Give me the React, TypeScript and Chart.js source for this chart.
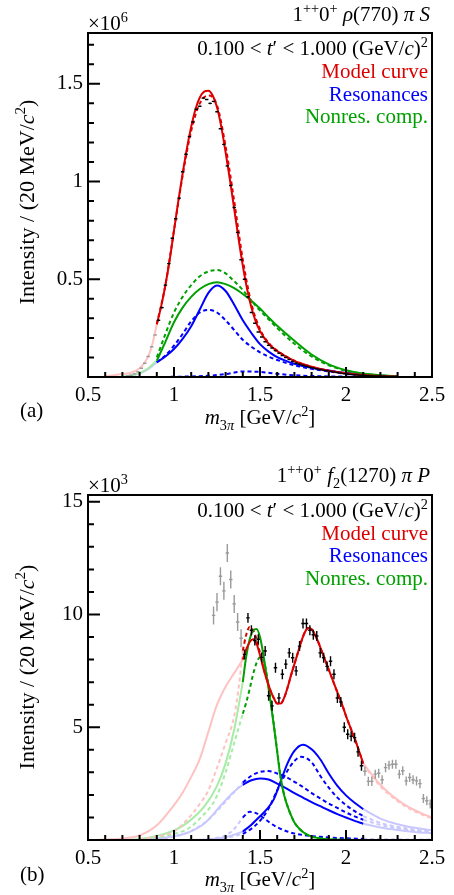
import React, { useEffect, useRef } from 'react';
import { Chart, registerables } from 'chart.js';

Chart.register(...registerables);

type Pt = [number, number];

const SERIF = "'Liberation Serif', 'DejaVu Serif', serif";
Chart.defaults.font.family = SERIF;
Chart.defaults.color = '#000';

const RED = '#dd0000';
const BLUE = '#0000ff';
const GREEN = '#00a000';
const PINK = '#ffc2c2';
const LGREEN = '#a6eca6';
const LBLUE = '#c8c8ff';
const BLACK = '#000000';
const GRAY = '#9a9a9a';

const X_MIN = 0.5;
const X_MAX = 2.5;
const X_TICKS = [0.5, 1, 1.5, 2, 2.5];

// ---------------- Panel (a): 1++0+ rho(770) pi S  (units of 10^6) ----------------
const A_Y_MAX = 1.76;
const A_Y_TICKS = [0.5, 1, 1.5];
const A_ERR = 0.004;

const A_DATA: Pt[] = [
  [0.91, 0.29], [0.93, 0.355], [0.95, 0.47], [0.97, 0.58], [0.99, 0.71], [1.01, 0.81],
  [1.03, 0.915], [1.05, 1.05], [1.07, 1.14], [1.09, 1.23], [1.11, 1.305], [1.13, 1.37],
  [1.15, 1.385], [1.17, 1.427], [1.19, 1.42], [1.21, 1.40], [1.23, 1.41], [1.25, 1.357],
  [1.27, 1.27], [1.29, 1.19], [1.31, 1.08], [1.33, 0.98], [1.35, 0.867], [1.37, 0.74],
  [1.39, 0.60], [1.41, 0.50], [1.43, 0.41], [1.45, 0.33], [1.47, 0.275], [1.49, 0.23],
  [1.51, 0.205], [1.53, 0.18], [1.55, 0.162], [1.57, 0.148], [1.59, 0.135], [1.61, 0.122],
  [1.63, 0.11], [1.65, 0.10], [1.67, 0.09], [1.69, 0.08], [1.71, 0.071], [1.73, 0.066],
  [1.75, 0.06], [1.77, 0.055], [1.79, 0.05], [1.81, 0.046], [1.83, 0.042], [1.85, 0.038],
  [1.87, 0.035], [1.89, 0.032], [1.91, 0.029], [1.93, 0.026], [1.95, 0.023], [1.97, 0.02],
  [1.99, 0.017], [2.01, 0.015], [2.03, 0.013], [2.05, 0.011], [2.07, 0.01], [2.09, 0.009],
  [2.11, 0.008], [2.13, 0.007], [2.15, 0.006], [2.17, 0.005], [2.19, 0.005], [2.21, 0.004],
  [2.23, 0.004], [2.25, 0.003], [2.27, 0.003], [2.29, 0.002],
];
const A_DATA_OUT: Pt[] = [
  [0.73, 0.005], [0.75, 0.009], [0.77, 0.016], [0.79, 0.027], [0.81, 0.045],
  [0.83, 0.07], [0.85, 0.105], [0.87, 0.155], [0.89, 0.215],
];
const A_MODEL: Pt[] = [
  [0.9, 0.27], [0.925, 0.36], [0.95, 0.47], [0.975, 0.6], [1.0, 0.75], [1.025, 0.9],
  [1.05, 1.04], [1.075, 1.17], [1.1, 1.28], [1.125, 1.37], [1.15, 1.43], [1.175, 1.46],
  [1.2, 1.465], [1.225, 1.44], [1.25, 1.38], [1.275, 1.28], [1.3, 1.15], [1.325, 1.01],
  [1.35, 0.86], [1.375, 0.71], [1.4, 0.57], [1.425, 0.45], [1.45, 0.355], [1.475, 0.285],
  [1.5, 0.235], [1.55, 0.17], [1.6, 0.133], [1.65, 0.105], [1.7, 0.082], [1.8, 0.052],
  [1.9, 0.032], [2.0, 0.019], [2.1, 0.01], [2.2, 0.005], [2.3, 0.002],
];
const A_MODEL_DASH: Pt[] = [
  [0.9, 0.27], [0.95, 0.47], [1.0, 0.75], [1.05, 1.03], [1.1, 1.26], [1.15, 1.4],
  [1.2, 1.44], [1.25, 1.39], [1.3, 1.18], [1.35, 0.9], [1.4, 0.6], [1.45, 0.375],
  [1.5, 0.245], [1.55, 0.175], [1.6, 0.135], [1.7, 0.083], [1.8, 0.052], [1.9, 0.032],
  [2.0, 0.019], [2.1, 0.01], [2.2, 0.005], [2.3, 0.002],
];
const A_MODEL_OUT: Pt[] = [
  [0.6, 0.004], [0.65, 0.009], [0.7, 0.015], [0.75, 0.022], [0.8, 0.045],
  [0.825, 0.068], [0.85, 0.105], [0.875, 0.17], [0.9, 0.27],
];
const A_NONRES: Pt[] = [
  [0.9, 0.083], [0.95, 0.18], [1.0, 0.28], [1.05, 0.355], [1.1, 0.41], [1.15, 0.45],
  [1.2, 0.475], [1.25, 0.485], [1.3, 0.475], [1.35, 0.455], [1.4, 0.425], [1.45, 0.39],
  [1.5, 0.35], [1.55, 0.305], [1.6, 0.262], [1.7, 0.185], [1.8, 0.115], [1.9, 0.065],
  [2.0, 0.035], [2.1, 0.018], [2.2, 0.009], [2.3, 0.004],
];
const A_NONRES_DASH: Pt[] = [
  [0.9, 0.1], [0.95, 0.22], [1.0, 0.33], [1.05, 0.41], [1.1, 0.47], [1.15, 0.515],
  [1.2, 0.54], [1.25, 0.547], [1.3, 0.53], [1.35, 0.49], [1.4, 0.445], [1.45, 0.39],
  [1.5, 0.34], [1.55, 0.295], [1.6, 0.25], [1.7, 0.17], [1.8, 0.105], [1.9, 0.06],
  [2.0, 0.032], [2.1, 0.016], [2.2, 0.008], [2.3, 0.003],
];
const A_NONRES_OUT: Pt[] = [
  [0.7, 0.003], [0.75, 0.008], [0.8, 0.02], [0.85, 0.045], [0.9, 0.083],
];
const A_RES: Pt[] = [
  [0.9, 0.075], [0.95, 0.105], [1.0, 0.143], [1.05, 0.195], [1.1, 0.26], [1.15, 0.345],
  [1.2, 0.43], [1.25, 0.468], [1.3, 0.44], [1.35, 0.37], [1.4, 0.29], [1.45, 0.225],
  [1.5, 0.168], [1.55, 0.13], [1.6, 0.102], [1.7, 0.068], [1.8, 0.047], [1.9, 0.033],
  [2.0, 0.02], [2.1, 0.012], [2.2, 0.007], [2.3, 0.003],
];
const A_RES_DASH: Pt[] = [
  [0.9, 0.075], [0.95, 0.11], [1.0, 0.16], [1.05, 0.22], [1.1, 0.285], [1.15, 0.33],
  [1.2, 0.343], [1.25, 0.33], [1.3, 0.29], [1.35, 0.24], [1.4, 0.19], [1.45, 0.155],
  [1.5, 0.126], [1.55, 0.104], [1.6, 0.087], [1.7, 0.06], [1.8, 0.042], [1.9, 0.028],
  [2.0, 0.017], [2.1, 0.01], [2.2, 0.005], [2.3, 0.002],
];
const A_RES_DASH2: Pt[] = [
  [0.9, 0.0], [1.0, 0.001], [1.1, 0.003], [1.2, 0.006], [1.3, 0.015], [1.4, 0.028],
  [1.5, 0.026], [1.6, 0.016], [1.7, 0.009], [1.8, 0.005], [2.0, 0.002], [2.3, 0.001],
];
const A_RES_OUT: Pt[] = [
  [0.75, 0.006], [0.8, 0.018], [0.85, 0.04], [0.9, 0.075],
];

// ---------------- Panel (b): 1++0+ f2(1270) pi P  (units of 10^3) ----------------
const B_Y_MAX = 15.3;
const B_Y_TICKS = [5, 10, 15];
const B_ERR = 0.22;
const B_ERR_OUT_LOW = 0.4;
const B_ERR_OUT_HIGH = 0.2;

const B_DATA: Pt[] = [
  [1.41, 8.23], [1.43, 9.85], [1.45, 9.3], [1.47, 8.85], [1.49, 8.9], [1.51, 8.1],
  [1.53, 8.38], [1.55, 6.4], [1.57, 5.95], [1.59, 7.64], [1.61, 6.3], [1.63, 7.35],
  [1.65, 7.8], [1.67, 8.3], [1.69, 8.08], [1.71, 7.5], [1.73, 8.6], [1.75, 9.6],
  [1.77, 9.6], [1.79, 9.3], [1.81, 9.1], [1.83, 9.05], [1.85, 8.3], [1.87, 8.08],
  [1.89, 7.7], [1.91, 7.93], [1.93, 7.35], [1.95, 6.3], [1.97, 6.12], [1.99, 5.0],
  [2.01, 4.69], [2.03, 4.6], [2.05, 4.54], [2.07, 3.91], [2.09, 3.29],
];
const B_DATA_OUT_LOW: Pt[] = [
  [1.23, 9.96], [1.25, 10.55], [1.27, 11.7], [1.29, 11.05], [1.31, 12.73],
  [1.33, 11.55], [1.35, 10.47], [1.37, 9.67], [1.39, 8.95],
];
const B_DATA_OUT_HIGH: Pt[] = [
  [2.11, 3.05], [2.13, 2.6], [2.15, 2.6], [2.17, 2.92], [2.19, 2.96], [2.21, 2.67],
  [2.23, 3.21], [2.25, 3.32], [2.27, 3.36], [2.29, 3.36], [2.31, 2.92], [2.33, 3.07],
  [2.35, 2.62], [2.37, 2.77], [2.39, 2.67], [2.41, 2.62], [2.43, 2.5], [2.45, 1.84],
  [2.47, 1.74], [2.49, 1.6],
];
const B_MODEL: Pt[] = [
  [1.4, 8.0], [1.42, 8.45], [1.44, 8.78], [1.46, 8.9], [1.48, 8.7], [1.5, 8.2],
  [1.52, 7.6], [1.54, 7.1], [1.56, 6.65], [1.58, 6.3], [1.6, 6.05], [1.62, 6.05],
  [1.64, 6.3], [1.66, 6.75], [1.68, 7.3], [1.7, 7.8], [1.72, 8.3], [1.74, 8.8],
  [1.76, 9.2], [1.78, 9.4], [1.8, 9.35], [1.82, 9.1], [1.84, 8.75], [1.86, 8.35],
  [1.88, 7.95], [1.9, 7.55], [1.92, 7.15], [1.94, 6.75], [1.96, 6.35], [1.98, 5.95],
  [2.0, 5.5], [2.02, 5.1], [2.04, 4.7], [2.06, 4.3], [2.08, 3.85], [2.1, 3.4],
];
const B_MODEL_DASH: Pt[] = [
  [1.4, 8.4], [1.42, 9.1], [1.44, 9.45], [1.46, 9.3], [1.48, 8.9], [1.5, 8.3],
  [1.52, 7.65], [1.54, 7.1], [1.56, 6.65], [1.58, 6.3], [1.6, 6.05], [1.62, 6.05],
  [1.64, 6.3], [1.66, 6.75], [1.68, 7.3], [1.7, 7.8], [1.72, 8.3], [1.74, 8.8],
  [1.76, 9.2], [1.78, 9.4], [1.8, 9.35], [1.82, 9.1], [1.84, 8.75], [1.86, 8.35],
  [1.88, 7.95], [1.9, 7.55], [1.92, 7.15], [1.94, 6.75], [1.96, 6.35], [1.98, 5.95],
  [2.0, 5.5], [2.02, 5.1], [2.04, 4.7], [2.06, 4.3], [2.08, 3.85], [2.1, 3.35],
];
const B_MODEL_OUT_LOW: Pt[] = [
  [0.55, 0.0], [0.6, 0.02], [0.7, 0.07], [0.8, 0.2], [0.9, 0.65], [1.0, 1.55],
  [1.05, 2.1], [1.1, 2.8], [1.15, 3.6], [1.2, 4.8], [1.25, 6.0], [1.3, 6.8],
  [1.35, 7.4], [1.4, 8.0],
];
const B_MODEL_OUT_HIGH: Pt[] = [
  [2.1, 3.4], [2.15, 2.9], [2.2, 2.45], [2.25, 2.08], [2.3, 1.78], [2.35, 1.52],
  [2.4, 1.32], [2.45, 1.15], [2.5, 1.0],
];
const B_MODEL_DASH_OUT_LOW: Pt[] = [
  [0.8, 0.05], [0.9, 0.15], [1.0, 0.38], [1.08, 0.93], [1.15, 1.6], [1.2, 2.2],
  [1.25, 3.2], [1.3, 4.3], [1.35, 5.5], [1.38, 7.0], [1.4, 8.4],
];
const B_MODEL_DASH_OUT_HIGH: Pt[] = [
  [2.1, 3.35], [2.2, 2.38], [2.3, 1.72], [2.4, 1.27], [2.5, 0.95],
];
const B_NONRES: Pt[] = [
  [1.4, 7.0], [1.42, 8.15], [1.44, 8.9], [1.46, 9.3], [1.48, 9.36], [1.5, 9.0],
  [1.52, 8.2], [1.54, 7.2], [1.56, 6.2], [1.58, 5.1], [1.6, 3.9], [1.62, 2.75],
  [1.64, 2.0], [1.66, 1.5], [1.68, 1.1], [1.7, 0.78], [1.73, 0.49], [1.76, 0.3],
  [1.8, 0.15], [1.85, 0.07], [1.9, 0.03], [2.0, 0.01], [2.1, 0.0],
];
const B_NONRES_DASH: Pt[] = [
  [1.4, 5.6], [1.42, 6.1], [1.44, 6.7], [1.46, 7.35], [1.48, 7.85], [1.5, 8.1],
  [1.52, 8.0], [1.54, 7.3], [1.56, 6.3], [1.58, 5.15], [1.6, 3.95], [1.62, 2.8],
  [1.64, 2.02], [1.66, 1.5], [1.68, 1.1], [1.7, 0.78], [1.73, 0.49], [1.76, 0.3],
  [1.8, 0.15], [1.85, 0.07], [1.9, 0.03], [2.0, 0.01], [2.1, 0.0],
];
const B_NONRES_OUT: Pt[] = [
  [0.7, 0.01], [0.8, 0.05], [0.9, 0.18], [1.0, 0.42], [1.08, 0.78], [1.18, 1.52],
  [1.25, 2.4], [1.3, 3.4], [1.35, 4.9], [1.4, 7.0],
];
const B_NONRES_DASH_OUT: Pt[] = [
  [0.8, 0.03], [0.9, 0.11], [1.0, 0.28], [1.08, 0.49], [1.15, 0.95], [1.24, 1.81],
  [1.3, 3.0], [1.35, 4.3], [1.4, 5.6],
];
const B_RES1: Pt[] = [
  [1.4, 2.45], [1.45, 2.65], [1.5, 2.73], [1.55, 2.68], [1.6, 2.5], [1.65, 2.3],
  [1.7, 2.08], [1.75, 1.88], [1.8, 1.68], [1.85, 1.5], [1.9, 1.32], [1.95, 1.15],
  [2.0, 1.0], [2.05, 0.85], [2.1, 0.72],
];
const B_RES1_OUT_LOW: Pt[] = [
  [0.8, 0.02], [0.9, 0.07], [1.0, 0.17], [1.08, 0.32], [1.18, 0.75], [1.28, 1.6],
  [1.35, 2.15], [1.4, 2.45],
];
const B_RES1_OUT_HIGH: Pt[] = [
  [2.1, 0.72], [2.2, 0.55], [2.3, 0.44], [2.4, 0.36], [2.5, 0.3],
];
const B_RES2: Pt[] = [
  [1.4, 0.37], [1.45, 0.68], [1.5, 1.05], [1.54, 1.37], [1.58, 1.8], [1.62, 2.6],
  [1.66, 3.4], [1.7, 3.95], [1.75, 4.22], [1.8, 4.02], [1.85, 3.58], [1.9, 2.95],
  [1.95, 2.4], [2.0, 1.98], [2.05, 1.65], [2.1, 1.37],
];
const B_RES2_OUT_LOW: Pt[] = [
  [1.1, 0.0], [1.2, 0.03], [1.3, 0.12], [1.4, 0.37],
];
const B_RES2_OUT_HIGH: Pt[] = [
  [2.1, 1.37], [2.2, 0.95], [2.3, 0.7], [2.4, 0.54], [2.5, 0.43],
];
const B_RES1_DASH: Pt[] = [
  [1.4, 2.55], [1.45, 2.85], [1.5, 3.02], [1.55, 3.06], [1.6, 2.95], [1.65, 2.8],
  [1.7, 2.58], [1.75, 2.35], [1.8, 2.08], [1.85, 1.85], [1.9, 1.62], [1.95, 1.42],
  [2.0, 1.22], [2.05, 1.05], [2.1, 0.9],
];
const B_RES1_DASH_OUT_LOW: Pt[] = [
  [0.9, 0.05], [1.0, 0.15], [1.1, 0.4], [1.2, 0.9], [1.3, 1.7], [1.4, 2.55],
];
const B_RES1_DASH_OUT_HIGH: Pt[] = [
  [2.1, 0.9], [2.2, 0.67], [2.3, 0.52], [2.4, 0.41], [2.5, 0.33],
];
const B_RES2_DASH: Pt[] = [
  [1.4, 0.27], [1.45, 0.5], [1.5, 0.85], [1.55, 1.4], [1.6, 2.2], [1.65, 2.95],
  [1.7, 3.5], [1.74, 3.69], [1.8, 3.45], [1.85, 2.85], [1.9, 2.32], [1.95, 1.88],
  [2.0, 1.55], [2.05, 1.28], [2.1, 1.06],
];
const B_RES2_DASH_OUT_LOW: Pt[] = [
  [1.2, 0.02], [1.3, 0.1], [1.4, 0.27],
];
const B_RES2_DASH_OUT_HIGH: Pt[] = [
  [2.1, 1.06], [2.2, 0.76], [2.3, 0.58], [2.4, 0.46], [2.5, 0.37],
];
const B_RES3_DASH: Pt[] = [
  [1.4, 1.0], [1.44, 1.25], [1.48, 1.18], [1.52, 0.98], [1.56, 0.75], [1.6, 0.57],
  [1.67, 0.35], [1.75, 0.22], [1.85, 0.14], [1.95, 0.09], [2.1, 0.05],
];
const B_RES3_DASH_OUT_LOW: Pt[] = [
  [1.2, 0.03], [1.3, 0.2], [1.35, 0.49], [1.4, 1.0],
];
const B_RES3_DASH_OUT_HIGH: Pt[] = [
  [2.1, 0.05], [2.3, 0.03], [2.5, 0.02],
];

// ---------------- helpers ----------------
const toXY = (pts: Pt[]) => pts.map(([x, y]) => ({ x, y }));

const curve = (pts: Pt[], color: string, dashed = false, width = 2) => ({
  type: 'line',
  data: toXY(pts),
  borderColor: color,
  backgroundColor: color,
  borderWidth: width,
  borderDash: dashed ? [4, 3] : [],
  pointRadius: 0,
  pointHoverRadius: 0,
  fill: false,
  cubicInterpolationMode: 'monotone',
});

const points = (pts: Pt[], color: string, err: number) => ({
  type: 'line',
  data: toXY(pts),
  showLine: false,
  pointRadius: 0,
  pointHoverRadius: 0,
  borderColor: color,
  backgroundColor: color,
  errBar: { err, half: 0.01, color },
});

const rootFramePlugin = {
  id: 'rootFrame',
  afterDatasetsDraw(chart: any, _args: any, opts: any) {
    const { ctx, chartArea: a, scales } = chart;
    const xs = scales.x;
    const ys = scales.y;
    ctx.save();
    // data points with error bars
    chart.data.datasets.forEach((ds: any) => {
      if (!ds.errBar) return;
      const { err, half, color } = ds.errBar;
      ctx.strokeStyle = color;
      ctx.lineWidth = 1.4;
      ctx.beginPath();
      ds.data.forEach((p: any) => {
        const x0 = xs.getPixelForValue(p.x - half);
        const x1 = xs.getPixelForValue(p.x + half);
        const xc = xs.getPixelForValue(p.x);
        const yc = ys.getPixelForValue(p.y);
        const yl = ys.getPixelForValue(p.y - err);
        const yh = ys.getPixelForValue(p.y + err);
        ctx.moveTo(x0, yc);
        ctx.lineTo(x1, yc);
        ctx.moveTo(xc, yl);
        ctx.lineTo(xc, yh);
      });
      ctx.stroke();
    });
    // frame
    ctx.strokeStyle = '#000';
    ctx.lineWidth = 2;
    ctx.strokeRect(a.left, a.top, a.right - a.left, a.bottom - a.top);
    // inward ticks on bottom and left axes
    ctx.beginPath();
    const nx = Math.round((xs.max - xs.min) / opts.xMinor);
    for (let k = 0; k <= nx; k++) {
      const v = xs.min + k * opts.xMinor;
      const r = v / opts.xMajor;
      const major = Math.abs(r - Math.round(r)) < 1e-6;
      const px = xs.getPixelForValue(v);
      ctx.moveTo(px, a.bottom);
      ctx.lineTo(px, a.bottom - (major ? 10 : 5));
    }
    const ny = Math.floor((ys.max - ys.min) / opts.yMinor + 1e-6);
    for (let k = 0; k <= ny; k++) {
      const v = ys.min + k * opts.yMinor;
      const r = v / opts.yMajor;
      const major = Math.abs(r - Math.round(r)) < 1e-6;
      const py = ys.getPixelForValue(v);
      ctx.moveTo(a.left, py);
      ctx.lineTo(a.left + (major ? 12 : 6), py);
    }
    ctx.stroke();
    ctx.restore();
  },
};

const fmt = (v: number) => String(Math.round(v * 100) / 100);

type PanelProps = {
  top: number;
  height: number;
  padTop: number;
  xAxisH: number;
  yMax: number;
  yTicks: number[];
  yMajor: number;
  yMinor: number;
  makeDatasets: () => any[];
};

function Panel({ top, height, padTop, xAxisH, yMax, yTicks, yMajor, yMinor, makeDatasets }: PanelProps) {
  const ref = useRef<HTMLCanvasElement>(null);
  useEffect(() => {
    const tickFont = { family: SERIF, size: 21 };
    const chart = new Chart(ref.current as HTMLCanvasElement, {
      type: 'line',
      data: { datasets: makeDatasets() as any },
      options: {
        animation: false,
        responsive: false,
        maintainAspectRatio: false,
        events: [],
        layout: { padding: { top: padTop, right: 22, left: 0, bottom: 0 } },
        plugins: {
          legend: { display: false },
          tooltip: { enabled: false },
          rootFrame: { xMajor: 0.5, xMinor: 0.1, yMajor, yMinor },
        } as any,
        scales: {
          x: {
            type: 'linear',
            min: X_MIN,
            max: X_MAX,
            grid: { display: false, drawTicks: false },
            border: { display: false },
            afterBuildTicks: (s: any) => {
              s.ticks = X_TICKS.map((v) => ({ value: v }));
            },
            ticks: {
              font: tickFont,
              color: '#000',
              padding: 6,
              maxRotation: 0,
              autoSkip: false,
              callback: (v: any) => fmt(Number(v)),
            },
            afterFit: (s: any) => {
              s.height = xAxisH;
            },
          },
          y: {
            type: 'linear',
            min: 0,
            max: yMax,
            grid: { display: false, drawTicks: false },
            border: { display: false },
            afterBuildTicks: (s: any) => {
              s.ticks = yTicks.map((v) => ({ value: v }));
            },
            ticks: {
              font: tickFont,
              color: '#000',
              padding: 5,
              autoSkip: false,
              callback: (v: any) => fmt(Number(v)),
            },
            afterFit: (s: any) => {
              s.width = 88;
            },
          },
        },
      } as any,
      plugins: [rootFramePlugin as any],
    });
    return () => chart.destroy();
  }, []);
  return (
    <canvas
      ref={ref}
      width={454}
      height={height}
      style={{ position: 'absolute', left: 0, top, width: 454, height, display: 'block' }}
    />
  );
}

const makeA = () => [
  curve(A_MODEL, RED),
  curve(A_NONRES, GREEN),
  curve(A_RES, BLUE),
  curve(A_MODEL_DASH, RED, true),
  curve(A_NONRES_DASH, GREEN, true),
  curve(A_RES_DASH, BLUE, true),
  curve(A_RES_DASH2, BLUE, true),
  curve(A_MODEL_OUT, PINK),
  curve(A_NONRES_OUT, LGREEN),
  curve(A_RES_OUT, LBLUE),
  points(A_DATA, BLACK, A_ERR),
  points(A_DATA_OUT, GRAY, A_ERR),
];

const makeB = () => [
  curve(B_MODEL, RED),
  curve(B_NONRES, GREEN),
  curve(B_RES2, BLUE),
  curve(B_RES1, BLUE),
  curve(B_MODEL_DASH, RED, true),
  curve(B_NONRES_DASH, GREEN, true),
  curve(B_RES1_DASH, BLUE, true),
  curve(B_RES2_DASH, BLUE, true),
  curve(B_RES3_DASH, BLUE, true),
  curve(B_MODEL_OUT_LOW, PINK),
  curve(B_MODEL_OUT_HIGH, PINK),
  curve(B_MODEL_DASH_OUT_LOW, PINK, true),
  curve(B_MODEL_DASH_OUT_HIGH, PINK, true),
  curve(B_NONRES_OUT, LGREEN),
  curve(B_NONRES_DASH_OUT, LGREEN, true),
  curve(B_RES1_OUT_LOW, LBLUE),
  curve(B_RES1_OUT_HIGH, LBLUE),
  curve(B_RES2_OUT_LOW, LBLUE),
  curve(B_RES2_OUT_HIGH, LBLUE),
  curve(B_RES1_DASH_OUT_LOW, LBLUE, true),
  curve(B_RES1_DASH_OUT_HIGH, LBLUE, true),
  curve(B_RES2_DASH_OUT_LOW, LBLUE, true),
  curve(B_RES2_DASH_OUT_HIGH, LBLUE, true),
  curve(B_RES3_DASH_OUT_LOW, LBLUE, true),
  curve(B_RES3_DASH_OUT_HIGH, LBLUE, true),
  points(B_DATA, BLACK, B_ERR),
  points(B_DATA_OUT_LOW, GRAY, B_ERR_OUT_LOW),
  points(B_DATA_OUT_HIGH, GRAY, B_ERR_OUT_HIGH),
];

// ---------------- text helpers ----------------
const Sup = ({ children }: { children: React.ReactNode }) => (
  <span style={{ fontSize: '0.68em', position: 'relative', top: '-0.62em' }}>{children}</span>
);
const Sub = ({ children }: { children: React.ReactNode }) => (
  <span style={{ fontSize: '0.68em', position: 'relative', top: '0.38em' }}>{children}</span>
);

const FS = 21;
const BASE = 17.6; // baseline offset from top for a 21px line box

const Txt = ({
  children,
  baseline,
  right,
  left,
  color = '#000',
  center,
}: {
  children: React.ReactNode;
  baseline: number;
  right?: number;
  left?: number;
  color?: string;
  center?: boolean;
}) => (
  <div
    style={{
      position: 'absolute',
      top: baseline - BASE,
      ...(right !== undefined ? { right } : {}),
      ...(left !== undefined ? { left } : {}),
      transform: center ? 'translateX(-50%)' : undefined,
      fontFamily: SERIF,
      fontSize: FS,
      lineHeight: `${FS}px`,
      whiteSpace: 'nowrap',
      color,
    }}
  >
    {children}
  </div>
);

const YTitle = ({ cy }: { cy: number }) => (
  <div
    style={{
      position: 'absolute',
      left: 28,
      top: cy,
      transform: 'translate(-50%, -50%) rotate(-90deg)',
      fontFamily: SERIF,
      fontSize: 22,
      lineHeight: '22px',
      whiteSpace: 'nowrap',
      color: '#000',
    }}
  >
    Intensity / (20 MeV/<i>c</i>
    <Sup>2</Sup>)
  </div>
);

const XTitle = ({ baseline }: { baseline: number }) => (
  <Txt baseline={baseline} left={260} center>
    <i>m</i>
    <Sub>
      3<i>π</i>
    </Sub>{' '}
    [GeV/<i>c</i>
    <Sup>2</Sup>]
  </Txt>
);

const TRange = ({ baseline }: { baseline: number }) => (
  <Txt baseline={baseline} right={26}>
    0.100 &lt; <i>t</i>′ &lt; 1.000 (GeV/<i>c</i>)<Sup>2</Sup>
  </Txt>
);

const Legend = ({ b0 }: { b0: number }) => (
  <>
    <Txt baseline={b0} right={26} color={RED}>
      Model curve
    </Txt>
    <Txt baseline={b0 + 22.5} right={26} color={BLUE}>
      Resonances
    </Txt>
    <Txt baseline={b0 + 45} right={26} color={GREEN}>
      Nonres. comp.
    </Txt>
  </>
);

export default function App() {
  return (
    <div style={{ position: 'absolute', left: 0, top: 0, width: 454, height: 895, background: '#fff', overflow: 'hidden' }}>
      <Panel
        top={0}
        height={440}
        padTop={33}
        xAxisH={63}
        yMax={A_Y_MAX}
        yTicks={A_Y_TICKS}
        yMajor={0.5}
        yMinor={0.1}
        makeDatasets={makeA}
      />
      <Panel
        top={440}
        height={455}
        padTop={55}
        xAxisH={55}
        yMax={B_Y_MAX}
        yTicks={B_Y_TICKS}
        yMajor={5}
        yMinor={1}
        makeDatasets={makeB}
      />

      {/* panel (a) texts */}
      <Txt baseline={22} right={24}>
        1<Sup>++</Sup>0<Sup>+</Sup> <i>ρ</i>(770) <i>π</i> <i>S</i>
      </Txt>
      <Txt baseline={31} left={88}>
        ×10<Sup>6</Sup>
      </Txt>
      <TRange baseline={56} />
      <Legend b0={79} />
      <YTitle cy={202} />
      <XTitle baseline={425} />
      <Txt baseline={418} left={20}>
        (a)
      </Txt>

      {/* panel (b) texts */}
      <Txt baseline={483} right={24}>
        1<Sup>++</Sup>0<Sup>+</Sup> <i>f</i>
        <Sub>2</Sub>(1270) <i>π</i> <i>P</i>
      </Txt>
      <Txt baseline={493} left={88}>
        ×10<Sup>3</Sup>
      </Txt>
      <TRange baseline={518} />
      <Legend b0={540.5} />
      <YTitle cy={667} />
      <XTitle baseline={887} />
      <Txt baseline={882} left={20}>
        (b)
      </Txt>
    </div>
  );
}
